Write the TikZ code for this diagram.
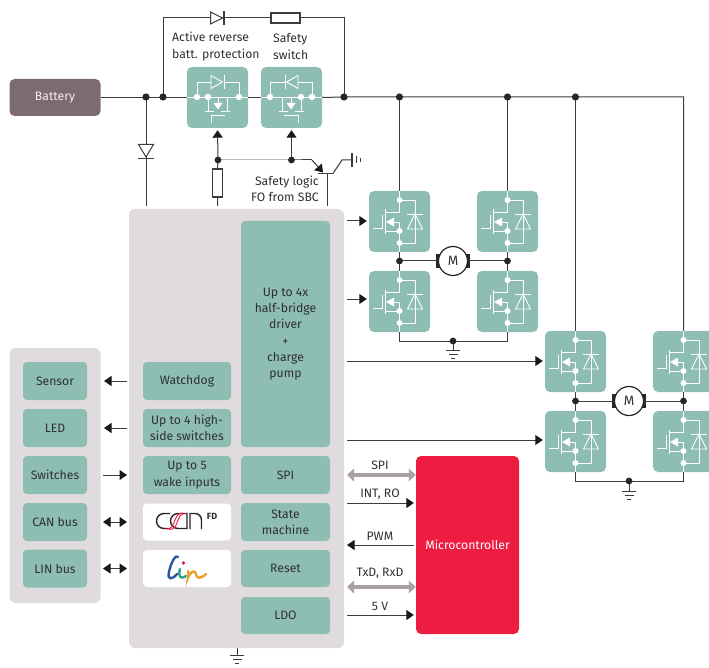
\documentclass[tikz,border=0pt]{standalone}
\usepackage{fontspec}
\setmainfont{Fira Sans}
\usetikzlibrary{arrows.meta}
\definecolor{teal1}{HTML}{8DBDB3}
\definecolor{panelc}{HTML}{E0DCDD}
\definecolor{batc}{HTML}{7D6B70}
\definecolor{redc}{HTML}{EE1C41}
\definecolor{linec}{HTML}{3C3C3C}
\definecolor{grayar}{HTML}{A9A2A4}
\definecolor{txtc}{HTML}{303030}
\definecolor{linblue}{HTML}{2F55A4}
\definecolor{lingreen}{HTML}{2FA58A}
\definecolor{linorange}{HTML}{F0A030}
\tikzset{
  every node/.style={font=\fontsize{12.2}{16.3}\selectfont,text=txtc,align=center,inner sep=0pt},
  wire/.style={draw=linec,line width=1pt},
  arr/.style={wire,-{Triangle[length=7.5pt,width=10pt,color=black!90]}},
  dbl/.style={wire,{Triangle[length=7.5pt,width=10pt,color=black!90]}-{Triangle[length=7.5pt,width=10pt,color=black!90]}},
  garr/.style={draw=grayar,line width=3.3pt,{Triangle[length=7pt,width=12.5pt]}-{Triangle[length=7pt,width=12.5pt]}},
  tbox/.style={fill=teal1,rounded corners=4pt,minimum width=#1},
  tbox/.default=88pt,
  panel/.style={fill=panelc,rounded corners=6pt},
  whitebox/.style={fill=white,rounded corners=4pt,minimum width=88pt,minimum height=37pt},
  sw/.style={fill=teal1,rounded corners=5pt,minimum width=61pt,minimum height=61pt},
  wl/.style={draw=white,line width=0.9pt},
  wd/.style={fill=white,draw=none},
  jn/.style={fill=black!85,draw=none},
  res/.style={draw=linec,line width=1.1pt,fill=white,minimum width=#1},
}
% half-bridge switch: name, left, top
\newcommand\hsw[3]{%
  \node[sw] (#1) at (#2+30.5,#3+30.5) {};
  \begin{scope}[shift={(#2,#3)}]
    \draw[wl] (30.5,0) -- (30.5,21) -- (16,21);
    \draw[wl] (30.5,9) -- (46,9) -- (46,52) -- (30.5,52) -- (30.5,61);
    \draw[wl] (30.5,52) -- (30.5,40) -- (16,40);
    \draw[wl] (30.5,40) -- (30.5,31) -- (24,31);
    \fill[white] (17,31) -- (25,26.5) -- (25,35.5) -- cycle;
    \draw[wl] (16,18.5) -- (16,43);
    \draw[wl] (4,37) -- (13,37) -- (13,24);
    \draw[wl] (38,23) -- (54,23);
    \draw[wl] (46,23) -- (38.5,38) -- (53.5,38) -- cycle;
    \fill[wd] (30.5,9) circle (3pt) (30.5,40) circle (3pt) (30.5,52) circle (3pt);
  \end{scope}}
% reverse/safety switch inner symbol, in box-local coordinates
\newcommand\revsym{%
  \draw[wl] (0,30) -- (61,30);
  \draw[wl] (10,30) -- (10,15) -- (24,15);
  \draw[wl] (37,15) -- (52,15) -- (52,30);
  \draw[wl] (24,8.5) -- (24,21.5) -- (35.5,15) -- cycle;
  \draw[wl] (37,8) -- (37,22);
  \draw[wl] (21,30) -- (21,44);
  \draw[wl] (18,44) -- (27,44);
  \draw[wl] (34,44) -- (43,44);
  \draw[wl] (40,44) -- (40,30);
  \draw[wl] (31,30) -- (31,37);
  \fill[white] (31,42.5) -- (26.5,36) -- (35.5,36) -- cycle;
  \draw[wl] (24,56) -- (24,48.5) -- (38,48.5);
  \fill[wd] (10,30) circle (3.2pt) (21,30) circle (3.2pt) (52,30) circle (3.2pt);}
% ground symbol
\newcommand\gnd[3]{%
  \coordinate (#1) at (#2,#3);
  \draw[wire] (#2-7,#3) -- (#2+7,#3);
  \draw[wire] (#2-4.5,#3+4) -- (#2+4.5,#3+4);
  \draw[wire] (#2-2.2,#3+8) -- (#2+2.2,#3+8);}
\newcommand\motor[3]{%
  \fill[black!85] (#2-17,#3-7) rectangle (#2-13,#3+7);
  \fill[black!85] (#2+13,#3-7) rectangle (#2+17,#3+7);
  \node[circle,draw=black!85,line width=1.2pt,fill=white,minimum size=29pt,font=\fontsize{13.5}{14}\selectfont] (#1) at (#2,#3) {M};}
\begin{document}
\begin{tikzpicture}[x=1pt,y=-1pt]
\useasboundingbox (0,0) rectangle (709,668);
% panels
\node[panel,minimum width=215pt,minimum height=439pt] (main) at (236.5,428.5) {};
\node[panel,minimum width=91pt,minimum height=255pt] (left) at (55,475.5) {};
% battery
\node[fill=batc,rounded corners=5pt,minimum width=91pt,minimum height=37pt,text=white!90!batc] (bat) at (55,97.5) {Battery};
% reverse & safety switches
\node[sw] (rev) at (217.5,97.5) {};
\node[sw] (saf) at (291.5,97.5) {};
\begin{scope}[shift={(187,67)}]\revsym\end{scope}
\begin{scope}[shift={(322,67)},xscale=-1]\revsym\end{scope}
% junctions
\coordinate (j146) at (146,97);
\coordinate (j163) at (163,97);
\coordinate (j344) at (344,97);
\coordinate (j400) at (399.5,97);
\coordinate (j507) at (507.5,97);
\coordinate (j576) at (575.5,97);
\coordinate (c684) at (683.5,97);
\coordinate (tl) at (163,18);
\coordinate (tr) at (344,18);
% bridge 1
\hsw{qa}{369}{191}\hsw{qb}{477}{191}\hsw{qc}{369}{271}\hsw{qd}{477}{271}
\hsw{qe}{545}{331}\hsw{qf}{653}{331}\hsw{qg}{545}{411}\hsw{qh}{653}{411}
% wires
\draw[wire] (bat.east) -- (rev.west);
\draw[wire] (rev.east) -- (saf.west);
\draw[wire] (saf.east) -- (j344) -- (j400) -- (j507) -- (j576) -- (c684) -- (qf.north);
\draw[wire] (j400) -- (qa.north);
\draw[wire] (j507) -- (qb.north);
\draw[wire] (j576) -- (qe.north);
\draw[wire] (j163) -- (tl) -- (tr) -- (j344);
% top diode + resistor
\node[res=29pt,minimum height=10pt] (rtop) at (285.5,18) {};
\draw[wire,fill=white] (210.5,12) -- (222.5,18) -- (210.5,24) -- cycle;
\draw[wire,line width=1.3pt] (224,11) -- (224,25);
% battery diode
\coordinate (dbot) at (146,206);
\draw[wire] (j146) -- (dbot);
\draw[wire,fill=white] (138.5,144.5) -- (153.5,144.5) -- (146,157) -- cycle;
\draw[wire,line width=1.3pt] (138,158.5) -- (154,158.5);
% safety logic
\coordinate (ja) at (218,160);
\coordinate (jb) at (291.5,160);
\coordinate (te) at (312,160);
\coordinate (tb) at (323,172.5);
\coordinate (tc) at (333,173.5);
\coordinate (tg) at (342,160);
\coordinate (tgnd) at (352,160);
\coordinate (tbase) at (327,173.5);
\coordinate (tend) at (327,206);
\coordinate (rend) at (217.5,206);
\node[res=10pt,minimum height=28pt] (rlog) at (217.5,183) {};
\draw[arr,shorten >=2pt] (ja) -- (rev.south);
\draw[arr,shorten >=2pt] (jb) -- (saf.south);
\draw[wire] (ja) -- (jb) -- (te);
\draw[arr] (te) -- (tb);
\draw[wire] (ja) -- (rlog.north) (rlog.south) -- (rend);
\draw[wire,line width=1.3pt] (318,173.5) -- (333,173.5);
\draw[wire] (tbase) -- (tend);
\draw[wire] (tc) -- (tg) -- (tgnd);
\draw[wire,line width=1.2pt] (352,153) -- (352,167);
\draw[wire] (356,156.5) -- (356,163.5);
\draw[wire] (360,158) -- (360,162);
% labels
\node[anchor=west,align=left] (l1) at (172,46.5) {Active reverse\\batt. protection};
\node[anchor=west,align=left] (l2) at (273,46.5) {Safety\\switch};
\node[anchor=east,align=right] (l3) at (319,189) {Safety logic\\FO from SBC};
% bridges wiring
\motor{m1}{453}{261}
\motor{m2}{629}{401}
\coordinate (n1) at (399.5,261);\coordinate (n2) at (507.5,261);
\coordinate (n3) at (575.5,401);\coordinate (n4) at (683.5,401);
\draw[wire] (qa.south) -- (qc.north) (qb.south) -- (qd.north);
\draw[wire] (qe.south) -- (qg.north) (qf.south) -- (qh.north);
\draw[wire] (n1) -- (m1) -- (n2);
\draw[wire] (n3) -- (m2) -- (n4);
\coordinate (g1l) at (399.5,341);\coordinate (g1r) at (507.5,341);\coordinate (g1) at (453,341);
\coordinate (g2l) at (575.5,481);\coordinate (g2r) at (683.5,481);\coordinate (g2) at (629,481);
\draw[wire] (qc.south) -- (g1l) -- (g1r) -- (qd.south);
\draw[wire] (qg.south) -- (g2l) -- (g2r) -- (qh.south);
\gnd{g1s}{453}{350}\gnd{g2s}{629}{491}\gnd{g3s}{237}{655}
\draw[wire] (g1) -- (g1s) (g2) -- (g2s) (main.south -| g3s) -- (g3s);
\fill[jn] (j146) circle (3.6pt) (j163) circle (3.6pt) (j344) circle (3.6pt) (j400) circle (3.6pt) (j507) circle (3.6pt) (j576) circle (3.6pt)
 (ja) circle (3.4pt) (jb) circle (3.4pt) (n1) circle (3.4pt) (n2) circle (3.4pt) (n3) circle (3.4pt) (n4) circle (3.4pt) (g1) circle (3.4pt) (g2) circle (3.4pt);
% big driver and blocks
\node[tbox=89pt,minimum height=226pt] (drv) at (285.5,334) {Up to 4x\\half-bridge\\driver\\+\\charge\\pump};
\node[tbox=89pt,minimum height=38pt] (spi) at (285.5,475) {SPI};
\node[tbox=89pt,minimum height=38pt] (sm) at (285.5,522) {State\\machine};
\node[tbox=89pt,minimum height=37pt] (rst) at (285.5,568.5) {Reset};
\node[tbox=89pt,minimum height=37pt] (ldo) at (285.5,615.5) {LDO};
\node[tbox=88pt,minimum height=38pt] (wd) at (187,381) {Watchdog};
\node[tbox=88pt,minimum height=38pt] (hs) at (187,428) {Up to 4 high-\\side switches};
\node[tbox=88pt,minimum height=38pt] (wk) at (187,475) {Up to 5\\wake inputs};
\node[whitebox] (can) at (187,522) {};
\node[whitebox] (lin) at (187,568.5) {};
\node[tbox=64pt,minimum height=38pt] (sen) at (55,381) {Sensor};
\node[tbox=64pt,minimum height=38pt] (led) at (55,428) {LED};
\node[tbox=64pt,minimum height=38pt] (swi) at (55,475) {Switches};
\node[tbox=64pt,minimum height=38pt] (cbus) at (55,522) {CAN bus};
\node[tbox=64pt,minimum height=38pt] (lbus) at (55,568.5) {LIN bus};
\node[fill=redc,rounded corners=5pt,minimum width=103pt,minimum height=178pt,text=white] (mcu) at (467.5,545) {Microcontroller};
% left arrows
\draw[arr] (127,381) -- (104,381);
\draw[arr] (127,428) -- (104,428);
\draw[arr] (103,475) -- (127,475);
\draw[dbl] (103,522) -- (127,522);
\draw[dbl] (103,568.5) -- (127,568.5);
% driver arrows
\coordinate (d1) at (347,221);\coordinate (d2) at (347,299);\coordinate (d3) at (347,361);\coordinate (d4) at (347,440);
\draw[arr,shorten >=2pt] (d1) -- (d1 -| qa.west);
\draw[arr,shorten >=2pt] (d2) -- (d2 -| qc.west);
\draw[arr,shorten >=2pt] (d3) -- (d3 -| qe.west);
\draw[arr,shorten >=2pt] (d4) -- (d4 -| qg.west);
% MCU signals
\coordinate (s1) at (347,475);\coordinate (s2) at (347,503);\coordinate (s3) at (347,545);\coordinate (s4) at (347,587);\coordinate (s5) at (347,615);
\draw[garr] (s1) -- (s1 -| mcu.west);
\draw[arr,shorten >=2pt] (s2) -- (s2 -| mcu.west);
\draw[arr,shorten <=2pt] (s3 -| mcu.west) -- (s3);
\draw[garr] (s4) -- (s4 -| mcu.west);
\draw[arr,shorten >=2pt] (s5) -- (s5 -| mcu.west);
\node (t1) at (380,465) {SPI};
\node (t2) at (380,494) {INT, RO};
\node (t3) at (380,536) {PWM};
\node (t4) at (380,573.5) {TxD, RxD};
\node (t5) at (380,606) {5 V};
% CAN logo
\begin{scope}
 \draw[black!85,line width=1.4pt] (170,513.5) -- (164,513.5) arc (270:90:7.5) -- (170,528.5);
 \draw[black!85,line width=1.4pt] (181,513.5) -- (178,513.5) arc (270:90:7.5) -- (187,528.5) -- (187,513.5) -- (181,513.5);
 \draw[black!85,line width=1.4pt] (190,529) -- (190,513.5) -- (195,513.5) arc (270:360:6.5) -- (201.5,529);
 \draw[redc,line width=0.9pt] (166,529) .. controls (177,530) and (172,513) .. (183,513);
 \draw[redc,line width=0.9pt] (169,529.5) .. controls (180,530) and (175,513) .. (186,513.5);
\end{scope}
\node[font=\bfseries\fontsize{9}{10}\selectfont] (fd) at (212,516) {FD};
% LIN logo
\begin{scope}[line cap=round]
 \draw[linblue,line width=2.4pt] (178,557) .. controls (176,554) and (171,562) .. (169,572) .. controls (167,580) and (172,580) .. (177,574);
 \draw[lingreen,line width=2.4pt] (180,569) .. controls (178,576) and (180,580) .. (186,576);
 \fill[redc] (183.5,563) circle (1.8pt);
 \draw[linorange,line width=2.4pt] (188,571) .. controls (189,575) and (188,577) .. (188,578) .. controls (191,570) and (195,570) .. (196,574) .. controls (196,579) and (201,579) .. (206,574);
\end{scope}
\end{tikzpicture}
\end{document}
